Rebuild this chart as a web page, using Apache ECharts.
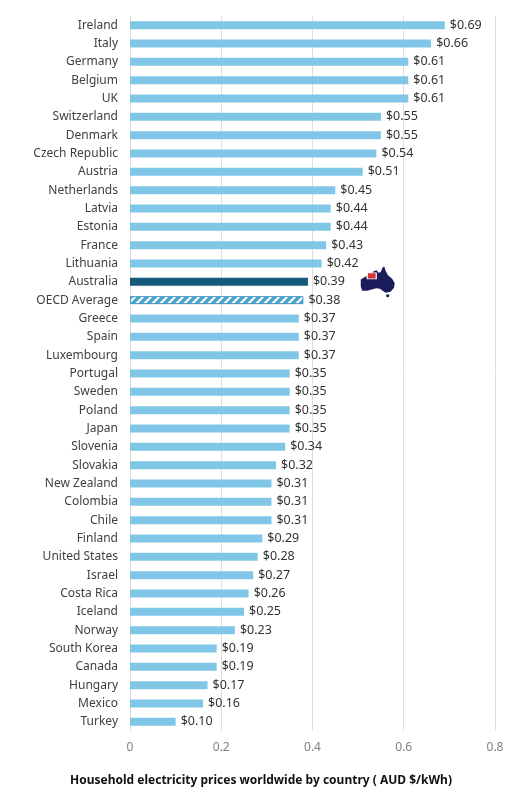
<!DOCTYPE html>
<html>
<head>
<meta charset="utf-8">
<script src="https://cdn.jsdelivr.net/npm/echarts@6/dist/echarts.min.js"></script>
<style>html,body{margin:0;padding:0;background:#fff}#c{width:522px;height:799px}</style>
</head>
<body>
<div id="c"></div>
<script>
var countries = ["Ireland","Italy","Germany","Belgium","UK","Switzerland","Denmark","Czech Republic","Austria","Netherlands","Latvia","Estonia","France","Lithuania","Australia","OECD Average","Greece","Spain","Luxembourg","Portugal","Sweden","Poland","Japan","Slovenia","Slovakia","New Zealand","Colombia","Chile","Finland","United States","Israel","Costa Rica","Iceland","Norway","South Korea","Canada","Hungary","Mexico","Turkey"];
var prices = [0.69,0.66,0.61,0.61,0.61,0.55,0.55,0.54,0.51,0.45,0.44,0.44,0.43,0.42,0.39,0.38,0.37,0.37,0.37,0.35,0.35,0.35,0.35,0.34,0.32,0.31,0.31,0.31,0.29,0.28,0.27,0.26,0.25,0.23,0.19,0.19,0.17,0.16,0.10];
var xTicks = [0, 0.2, 0.4, 0.6, 0.8];
var flagPos = [[0.543, "Australia"]];

var pc = document.createElement('canvas');
pc.width = 8; pc.height = 8;
var g = pc.getContext('2d');
g.fillStyle = '#4aa3cf'; g.fillRect(0,0,8,8);
g.strokeStyle = '#ffffff'; g.lineWidth = 2.2;
g.beginPath();
g.moveTo(-2,10); g.lineTo(10,-2);
g.moveTo(6,10); g.lineTo(10,6);
g.moveTo(-2,2); g.lineTo(2,-2);
g.stroke();

var barData = countries.map(function(c, i){
  var d = {value: prices[i]};
  if (c === 'Australia') d.itemStyle = {color: '#155a7a'};
  if (c === 'OECD Average') d.itemStyle = {color: {image: pc, repeat: 'repeat'}, borderColor: '#3f95c2', borderWidth: 1};
  return d;
});

var auPath = 'path://M5,40 L18,31 L32,27 L38,16 L47,12 L52,20 L58,17 L62,5 L67,0 L71,14 L77,27 L88,38 L95,52 L93,66 L84,78 L71,81 L63,75 L56,69 L46,67 L36,70 L22,75 L9,75 L5,62 Z M72,86 L81,86 L79,95 L73,94 Z';

var chart = echarts.init(document.getElementById('c'));
chart.setOption({
  animation: false,
  textStyle: {fontFamily: 'Noto Sans'},
  title: {
    text: 'Household electricity prices worldwide by country ( AUD $/kWh)',
    left: 'center', top: 770,
    textStyle: {color: '#111', fontSize: 12, fontWeight: 'bold'}
  },
  grid: {left: 130, right: 27, top: 16, bottom: 68},
  xAxis: {
    type: 'value', min: 0, max: 0.8, interval: 0.2,
    axisLine: {show: false}, axisTick: {show: false},
    splitLine: {lineStyle: {color: '#dedede', width: 1}},
    axisLabel: {color: '#808080', fontSize: 12, margin: 11,
      formatter: function(v){ var t = xTicks.filter(function(x){return Math.abs(x-v)<1e-9;}); return t.length ? String(t[0]) : ''; }}
  },
  yAxis: {
    type: 'category', data: countries, inverse: true,
    axisLine: {show: false}, axisTick: {show: false},
    axisLabel: {color: '#404040', fontSize: 12, margin: 12}
  },
  series: [{
    type: 'bar', data: barData, barWidth: 8,
    itemStyle: {color: '#80c7e7'},
    label: {show: true, position: 'right', distance: 5, color: '#333', fontSize: 12.5,
      formatter: function(p){ return '$' + p.value.toFixed(2); }}
  }, {
    type: 'scatter', data: flagPos, symbol: auPath, symbolSize: [34, 31],
    itemStyle: {color: '#1a1c5c', opacity: 1}, z: 5, silent: true
  }, {
    type: 'scatter', data: flagPos, symbol: 'rect', symbolSize: [9, 6], symbolOffset: [-6, -6],
    itemStyle: {color: '#d9323a', borderColor: '#ffffff', borderWidth: 1, opacity: 1}, z: 6, silent: true
  }]
});
</script>
</body>
</html>
